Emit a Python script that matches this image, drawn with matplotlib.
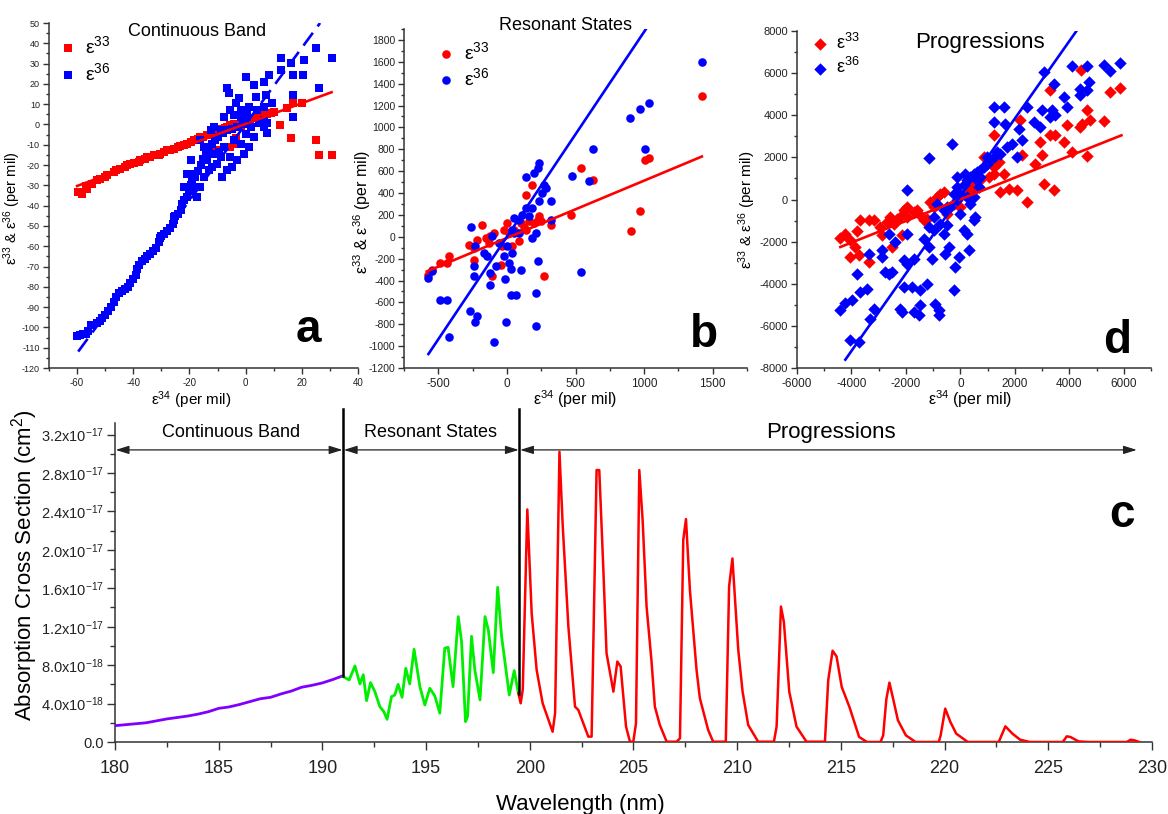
import numpy as np
import matplotlib
matplotlib.use("Agg")
import matplotlib.pyplot as plt
from matplotlib.ticker import MultipleLocator, FuncFormatter

plt.rcParams["font.family"] = ["Liberation Sans", "DejaVu Sans"]
plt.rcParams["mathtext.fontset"] = "custom"
plt.rcParams["mathtext.rm"] = "Liberation Sans"
plt.rcParams["mathtext.it"] = "Liberation Sans:italic"
plt.rcParams["mathtext.bf"] = "Liberation Sans:bold"
plt.rcParams["axes.unicode_minus"] = False

RED = "#ff0000"
BLUE = "#0000ff"
GREEN = "#00ee00"
PURPLE = "#8000ff"
AXC = "#333333"

# ---------------- panel a : continuous band (eps34, eps33) / (eps34, eps36)
a_red = [(-59.5, -33.3), (-58.3, -34.2), (-57, -30.5), (-56.5, -31.7), (-54.8, -29.2),
         (-53, -27.5), (-51.8, -26.7), (-50, -26), (-49.4, -25.1), (-47, -23.4),
         (-46, -22.5), (-44.6, -21.8), (-43, -21), (-42.3, -20.1), (-41, -19.5),
         (-39.9, -18.8), (-38, -18.5), (-37.5, -17.7), (-36, -17), (-35.1, -16),
         (-34, -16), (-32.7, -15.2), (-31, -14.8), (-30.4, -14.4), (-29, -13.5),
         (-28, -12.7), (-27, -12.5), (-25.6, -11.9), (-24, -11), (-23.2, -10.6),
         (-22, -10), (-20.8, -9.4), (-19.5, -8.5), (-18.5, -7.8), (-17, -7),
         (-16.1, -6.4), (-15, -6), (-13.7, -5.3), (-12, -4.5), (-11.3, -3.6),
         (-10, -3), (-8.9, -2), (-7.5, -1.8), (-6.5, -1.2), (-5.5, -0.5),
         (-4.2, 0.2), (-3, -0.5), (-1.8, -1.2), (-1, 0.5), (0.6, 1.3), (1.5, 1.8),
         (3, 3), (4, 3.8), (5.4, 4.6), (6.5, 5), (7.7, 5.4), (9, 5.8), (10.1, 6.3),
         (12.3, -0.3), (14.9, 7.9), (16.7, 10.4), (16.1, -6.9), (20.2, 10.4),
         (25, -7.8), (26.2, -15.2), (30.7, -15.2), (-4.2, -9.4), (-3.6, -6.9),
         (-5.4, -11), (-0.6, 2.1), (-10.1, -12.7)]

a_blue = [(-60, -104), (-59, -103.5), (-58, -103), (-57, -103), (-56, -102), (-55, -99),
          (-53, -98), (-52, -97), (-51, -95.5), (-50, -94), (-49, -92), (-48, -90),
          (-47, -87.5), (-46, -85), (-45, -83), (-44, -82), (-43, -81), (-42, -80),
          (-41, -78), (-40, -76), (-39, -74), (-38.5, -71), (-38, -69), (-37, -67.5),
          (-36, -66.5), (-35, -65), (-34, -64), (-33, -62.5), (-32, -61), (-31, -58),
          (-30.5, -56), (-30, -55), (-29, -54), (-28, -52.5), (-27, -51), (-26, -49),
          (-25.5, -47), (-25, -45), (-24, -44), (-23, -42), (-22.5, -39), (-22, -37),
          (-21, -35.5), (-20, -33), (-19.5, -30), (-19, -28.5), (-18, -26), (-17, -23),
          (-16, -20), (-15, -17), (-14, -15), (-13, -12), (-12, -9.5), (-11, -7.5),
          (-10, -6), (-8, -4), (-6.5, -2.8), (-5, -2), (-3, -1.2), (-1, 0), (0.6, 2.1),
          (-12.5, -2.8), (-8.9, -2.8), (-6.5, 17.8), (-6, 15.3), (-3.6, 10.4),
          (-2.4, 12.9), (-1.8, 7.1), (0, 23.6), (0.6, 6.3), (3, 19.5), (3.6, 13.7),
          (4.2, 7.1), (6.5, 21.1), (7.1, 14.5), (8.3, 24.4), (9.5, 10.4), (12.5, 32.7),
          (12.5, 26.9), (16.1, 30.2), (16.7, 24.4), (16.7, 14.5), (16.7, 3.8),
          (20.8, 31.8), (20.6, 24.4), (25, 37.6), (26.2, 17.8), (30.7, 32.7),
          (7.7, -4.1), (3, -6.1), (1.2, -11), (-0.6, -14.4), (-3, -17.7), (-4.8, -21),
          (-6.5, -22.6), (-8.3, -25.9), (-10.1, -19.3), (-11.3, -14.4), (-13, -22.6),
          (-14.8, -25.9), (-16.1, -30.9), (-17.3, -35.8), (-19, -24.3), (-13.7, -17.7),
          (-9.5, -13.5), (-7.7, -11), (-4.2, -7.8), (-1.8, -9.4), (-5.4, -16.1),
          (-8.9, -16.1), (-11.9, -21), (-14.8, -11), (-16.1, -7.8), (-20.8, -24.3),
          (-19, -32.5), (-19.6, -17.7), (-22, -30.9), (-22.6, -39.1), (-25.6, -45.7),
          (0, -4.5), (1.8, -1.2), (4.8, 0.5), (6.5, 2.1), (-4.2, 4.6), (-1.8, 3.8),
          (6.5, -1.2), (7.7, 0.5), (1.2, 8.8), (6.5, 8.8), (-5.4, 7.1), (-7.7, 3.8),
          (-11.3, -1.2)]

a_fit33_x = [-60.0, 30.6]
a_fit33_y = [-30.3, 15.9]
a_fit36_x = [-59.6, 26.5]
a_fit36_y = [-111.9, 50.0]

# ---------------- panel b : resonant states
b_red = [(-572, -347), (-548, -302), (-487, -241), (-438, -241), (-425, -180), (-279, -73),
         (-242, -104), (-242, -210), (-218, -27), (-181, 110), (-156, -12), (-132, -58),
         (-120, 3), (-95, 33), (-108, -363), (-46, -256), (-34, -88), (-22, 64), (2, 125),
         (15, 33), (39, -88), (51, 64), (88, -43), (100, 125), (137, 64), (137, 384),
         (186, 475), (198, 125), (223, 155), (235, 186), (271, -363), (320, 110),
         (467, 201), (540, 628), (626, 521), (968, 232), (902, 49), (1005, 704),
         (1034, 719), (1421, 1288), (125, 94), (161, 140), (247, 140)]

b_blue = [(-572, -378), (-543, -317), (-487, -576), (-438, -576), (-425, -917), (-271, -682),
          (-230, -783), (-218, -728), (-262, 85), (-242, -271), (-242, -363), (-230, -88),
          (-169, -149), (-144, -180), (-120, -332), (-120, -439), (-108, 3), (-95, -966),
          (-83, -271), (-59, -58), (-22, -180), (-17, -387), (-10, -783), (2, -88),
          (15, -241), (27, -296), (27, -530), (39, -149), (51, 171), (64, -530), (88, 155),
          (100, -302), (112, 201), (137, 551), (137, 262), (161, 186), (186, 262),
          (186, -12), (198, 582), (210, 33), (210, -515), (210, -813), (223, 628),
          (235, 674), (230, -226), (235, 323), (259, 399), (271, 475), (284, 445),
          (320, 323), (320, 155), (474, 557), (540, -326), (601, 506), (626, 801),
          (895, 1084), (968, 1166), (1005, 801), (1034, 1227), (1421, 1602), (88, 33),
          (39, 64), (51, 33)]

b_fit33_x = [-584, 1421]
b_fit33_y = [-317, 734]
b_fit36_x = [-572, 1012]
b_fit36_y = [-1072, 1897]

# ---------------- panel d : progressions
d_red = [(-4408, -1812), (-4224, -1622), (-4041, -1939), (-3857, -2255), (-3796, -1511),
         (-4041, -2730), (-3735, -2651), (-3673, -989), (-3367, -957), (-3184, -989),
         (-3367, -2967), (-2939, -1306), (-2878, -1701), (-2694, -1068), (-2572, -831),
         (-2510, -2255), (-2449, -1147), (-2327, -910), (-2204, -831), (-2143, -1701),
         (-2082, -514), (-1959, -831), (-1959, -356), (-1714, -593), (-1592, -514),
         (-1469, -752), (-1347, -989), (-1224, -910), (-1102, -119), (-980, -356),
         (-857, 119), (-735, 277), (-612, 356), (-490, -673), (-367, -356), (-245, -198),
         (0, -356), (122, 277), (367, 435), (551, 593), (735, 910), (857, 2018),
         (1041, 1068), (1224, 3078), (1224, 1226), (1469, 356), (1592, 1226), (1776, 514),
         (2082, 435), (2204, 3759), (2265, 2097), (2449, -119), (2755, 1701), (2939, 2730),
         (3000, 2137), (3061, 752), (3306, 5183), (3306, 3047), (3429, 435), (3490, 3047),
         (3796, 2730), (3918, 3522), (4102, 2255), (4408, 3443), (4433, 6131), (4469, 3601),
         (4653, 4234), (4653, 2050), (4751, 3759), (5265, 3727), (5510, 5104), (5878, 5310),
         (245, 593), (490, 752), (1224, 1543), (1408, 1780)]

d_blue = [(-4408, -5230), (-4224, -4914), (-3980, -4787), (-3796, -3521), (-4041, -6686),
          (-3735, -6765), (-3673, -4391), (-3429, -4234), (-3367, -2572), (-3306, -5657),
          (-3184, -5183), (-2878, -2413), (-2878, -2730), (-2755, -3443), (-2633, -1622),
          (-2633, -3522), (-2510, -3443), (-2388, -2018), (-2204, -5183), (-2143, -5341),
          (-2082, -4154), (-2082, -2888), (-1959, 435), (-1959, -1622), (-1959, -3047),
          (-1776, -4154), (-1714, -2809), (-1714, -5341), (-1531, -5499), (-1469, -5025),
          (-1469, -4313), (-1224, -3997), (-1163, 1988), (-1163, -1306), (-1347, -1859),
          (-1163, -2255), (-1041, -2809), (-980, -1464), (-918, -4945), (-796, -5499),
          (-796, -5262), (-735, -1147), (-612, -1622), (-551, -2572), (-490, -1226),
          (-429, -2255), (-367, -356), (-306, 2651), (-245, -4313), (-184, -3205),
          (-122, 1068), (-61, -2730), (0, -673), (122, -1464), (184, 1226), (245, -1622),
          (306, -2413), (367, -198), (490, -989), (551, -831), (612, 910), (735, 1385),
          (980, 1701), (1224, 4392), (1224, 3680), (1469, 2176), (1592, 4392), (1653, 3601),
          (1714, 2493), (1898, 2651), (2082, 2018), (2143, 3364), (2265, 2809), (2449, 4392),
          (2694, 3680), (2939, 3443), (3000, 4234), (3061, 6052), (3306, 3918), (3367, 4234),
          (3429, 5499), (3490, 3997), (3796, 4868), (3918, 4392), (4102, 6320), (4408, 5262),
          (4408, 4947), (4653, 5183), (4653, 6320), (4714, 5578), (5265, 6369), (5510, 6100),
          (5878, 6480), (-122, 593), (0, 277), (122, 672), (245, 910), (367, 1068),
          (490, 1226), (612, 1305), (735, 1068), (857, 1543), (980, 2018), (1102, 1859),
          (1224, 2018), (1347, 2255), (245, 119), (490, 119), (674, 593), (-122, -40),
          (-245, 277), (-490, -356), (-612, -514), (-980, -831), (-857, -198)]

d_fit33_x = [-4408, 5914]
d_fit33_y = [-2255, 3047]
d_fit36_x = [-4224, 4261]
d_fit36_y = [-7603, 8000]

# ---------------- panel c : absorption spectrum (cross section in 1e-18 cm^2)
cont_wl = [180, 180.5, 181, 181.5, 182, 182.5, 183, 183.5, 184, 184.5, 185, 185.5, 186,
           186.5, 187, 187.5, 188, 188.5, 189, 189.5, 190, 190.5, 191]
cont_xs = [1.7, 1.8, 1.9, 2.0, 2.2, 2.4, 2.55, 2.7, 2.9, 3.15, 3.5, 3.65, 3.9, 4.2, 4.5,
           4.65, 5.0, 5.3, 5.7, 5.9, 6.15, 6.5, 6.9]

res_wl = [191.0, 191.29, 191.57, 191.81, 191.97, 192.13, 192.32, 192.53, 192.77, 192.96,
          193.12, 193.33, 193.49, 193.65, 193.84, 194.02, 194.21, 194.42, 194.7, 194.94,
          195.18, 195.42, 195.66, 195.9, 196.06, 196.3, 196.55, 196.71, 196.9, 197.0,
          197.19, 197.35, 197.6, 197.84, 198.0, 198.24, 198.45, 198.64, 199.01, 199.25,
          199.45]
res_xs = [6.8, 6.46, 7.92, 6.04, 7.0, 4.3, 6.18, 5.24, 3.68, 3.16, 2.36, 4.72, 4.89, 6.0,
          4.65, 7.67, 6.04, 9.65, 5.76, 3.85, 5.59, 4.79, 3.0, 9.76, 9.86, 5.76, 13.05,
          10.45, 2.12, 2.64, 11.0, 7.5, 4.38, 13.05, 11.67, 7.22, 16.1, 11.0, 4.9, 7.43,
          5.07]

prog_wl = [199.45, 199.56, 199.66, 199.88, 200.09, 200.33, 200.62, 201.1, 201.22, 201.43,
           201.59, 201.86, 202.18, 202.34, 202.82, 202.98, 203.22, 203.35, 203.54, 203.7,
           204.03, 204.22, 204.38, 204.64, 204.83, 204.99, 205.12, 205.28, 205.44, 205.63,
           205.87, 206.03, 206.27, 206.6, 207.08, 207.24, 207.4, 207.53, 207.72, 208.04,
           208.2, 208.6, 208.84, 209.45, 209.61, 209.77, 210.05, 210.26, 210.53, 211.01,
           211.77, 211.9, 212.11, 212.25, 212.51, 212.86, 213.34, 214.23, 214.39, 214.6,
           214.79, 215.04, 215.41, 215.88, 216.26, 216.91, 217.04, 217.19, 217.34, 217.53,
           217.75, 218.13, 218.6, 219.72, 219.81, 220.03, 220.28, 220.56, 221.12, 222.61,
           222.93, 223.27, 223.64, 224.11, 225.7, 225.89, 226.07, 226.45, 226.91, 228.78,
           228.97, 229.16, 229.38]
prog_xs = [5.07, 4.03, 5.45, 24.2, 13.4, 7.5, 4.03, 1.07, 2.99, 30.2, 22.4, 12.0, 3.68,
           3.33, 0.56, 0.56, 28.3, 28.3, 18.3, 9.24, 5.24, 8.37, 7.85, 1.6, 0.03, 0.03,
           1.94, 28.3, 23.1, 14.1, 8.37, 3.68, 1.77, 0.03, 0.03, 0.38, 21.05, 23.2, 15.8,
           7.5, 4.55, 1.25, 0.03, 0.03, 16.2, 19.1, 9.6, 5.24, 1.77, 0.03, 0.03, 1.6, 14.1,
           12.5, 5.24, 1.6, 0.03, 0.03, 6.45, 9.5, 8.9, 5.73, 3.65, 0.52, 0, 0, 0.7, 4.44,
           6.18, 4.38, 2.26, 0.7, 0, 0, 0.7, 3.47, 2.08, 0.87, 0, 0, 1.63, 0.87, 0.24, 0,
           0, 0.59, 0.52, 0.07, 0, 0, 0.24, 0.17, 0]

region_edges = [180.0, 191.0, 199.5, 229.3]
region_names = ["Continuous Band", "Resonant States", "Progressions"]
region_label_x = [185.6, 195.2, 214.5]
region_font = [13, 13, 16]
edge_bottom = [6.9, 5.0]  # where the separators meet the curve (1e-18)

EPS33 = "ε$^{33}$"
EPS36 = "ε$^{36}$"
EPS_Y = "ε$^{33}$ & ε$^{36}$ (per mil)"
EPS_X = "ε$^{34}$ (per mil)"


def style(ax, xlim, ylim, xmaj, xmin, ymaj, ymin, xfs, yfs):
    ax.set_xlim(*xlim)
    ax.set_ylim(*ylim)
    for s in ("top", "right"):
        ax.spines[s].set_visible(False)
    for s in ("left", "bottom"):
        ax.spines[s].set_color(AXC)
        ax.spines[s].set_linewidth(1.1)
    ax.xaxis.set_major_locator(MultipleLocator(xmaj))
    ax.xaxis.set_minor_locator(MultipleLocator(xmin))
    ax.yaxis.set_major_locator(MultipleLocator(ymaj))
    ax.yaxis.set_minor_locator(MultipleLocator(ymin))
    ax.tick_params(which="both", direction="out", color=AXC, width=1.0)
    ax.tick_params(which="major", length=4.5)
    ax.tick_params(which="minor", length=2.5)
    ax.tick_params(axis="x", labelsize=xfs, labelcolor="#222222", pad=3)
    ax.tick_params(axis="y", labelsize=yfs, labelcolor="#222222", pad=2)


def scatter_panel(ax, red, blue, marker, s, fits, fit_styles, title, title_xy, title_fs,
                  leg_xy, leg_fs):
    rx, ry = np.array(red).T
    bx, by = np.array(blue).T
    h1 = ax.scatter(rx, ry, s=s, marker=marker, color=RED, linewidths=0, zorder=2)
    h2 = ax.scatter(bx, by, s=s, marker=marker, color=BLUE, linewidths=0, zorder=3)
    for (fx, fy), (col, ls) in zip(fits, fit_styles):
        ax.plot(fx, fy, color=col, lw=1.9, ls=ls, zorder=4)
    ax.text(title_xy[0], title_xy[1], title, transform=ax.transAxes, fontsize=title_fs,
            ha="center", va="center")
    ax.legend([h1, h2], [EPS33, EPS36], loc="upper left", bbox_to_anchor=leg_xy,
              frameon=False, fontsize=leg_fs, handlelength=0.8, handletextpad=0.5,
              borderpad=0, borderaxespad=0, labelspacing=0.25, scatterpoints=1)


fig = plt.figure(figsize=(11.68, 8.14), dpi=100)

ax_a = fig.add_axes([0.04195, 0.5479, 0.26455, 0.42383])
ax_b = fig.add_axes([0.3459, 0.5479, 0.29366, 0.41646])
ax_d = fig.add_axes([0.68236, 0.5479, 0.30308, 0.414])
ax_c = fig.add_axes([0.09846, 0.08845, 0.88784, 0.39189])

# panel a
style(ax_a, (-70, 40), (-120, 50), 20, 10, 10, 5, 7, 6.5)
scatter_panel(ax_a, a_red, a_blue, "s", 26,
              [(a_fit33_x, a_fit33_y), (a_fit36_x, a_fit36_y)],
              [(RED, "-"), (BLUE, (0, (6, 3)))],
              "Continuous Band", (0.479, 0.975), 13, (0.035, 0.965), 14)
ax_a.text(0.838, 0.075, "a", transform=ax_a.transAxes, fontsize=33, fontweight="bold",
          ha="center", va="baseline")
ax_a.set_xlabel(EPS_X, fontsize=11, va="center")
ax_a.xaxis.set_label_coords(0.46, -0.092)
ax_a.set_ylabel(EPS_Y, fontsize=10.5, va="center")
ax_a.yaxis.set_label_coords(-0.118, 0.464)

# panel b
style(ax_b, (-750, 1750), (-1200, 1900), 500, 250, 200, 100, 8.5, 7.5)
scatter_panel(ax_b, b_red, b_blue, "o", 38,
              [(b_fit33_x, b_fit33_y), (b_fit36_x, b_fit36_y)],
              [(RED, "-"), (BLUE, "-")],
              "Resonant States", (0.47, 1.01), 13, (0.1, 0.965), 14)
ax_b.text(0.875, 0.062, "b", transform=ax_b.transAxes, fontsize=33, fontweight="bold",
          ha="center", va="baseline")
ax_b.set_xlabel(EPS_X, fontsize=11.5, va="center")
ax_b.xaxis.set_label_coords(0.499, -0.092)
ax_b.set_ylabel(EPS_Y, fontsize=11.5, va="center")
ax_b.yaxis.set_label_coords(-0.122, 0.46)

# panel d
style(ax_d, (-6000, 7000), (-8000, 8000), 2000, 1000, 2000, 1000, 8.5, 8)
scatter_panel(ax_d, d_red, d_blue, "D", 40,
              [(d_fit33_x, d_fit33_y), (d_fit36_x, d_fit36_y)],
              [(RED, "-"), (BLUE, "-")],
              "Progressions", (0.517, 0.966), 16, (0.045, 0.995), 13)
ax_d.text(0.904, 0.045, "d", transform=ax_d.transAxes, fontsize=33, fontweight="bold",
          ha="center", va="baseline")
ax_d.set_xlabel(EPS_X, fontsize=11.5, va="center")
ax_d.xaxis.set_label_coords(0.489, -0.092)
ax_d.set_ylabel(EPS_Y, fontsize=11, va="center")
ax_d.yaxis.set_label_coords(-0.142, 0.47)

# panel c
scale = 1e-18
style(ax_c, (180, 230), (0, 3.32e-17), 5, 2.5, 0.4e-17, 0.2e-17, 13, 10.5)
ax_c.tick_params(which="major", length=6)
ax_c.tick_params(which="minor", length=3.5)
ax_c.tick_params(axis="x", pad=7)


def sci(v, pos):
    if abs(v) < 1e-25:
        return "0.0"
    if v < 0:
        return ""
    e = int(np.floor(np.log10(v) + 1e-9))
    m = v / 10.0 ** e
    return f"{m:.1f}x10$^{{{e}}}$"


ax_c.yaxis.set_major_formatter(FuncFormatter(sci))
ax_c.plot(cont_wl, np.array(cont_xs) * scale, color=PURPLE, lw=2.0, zorder=3)
ax_c.plot(res_wl, np.array(res_xs) * scale, color=GREEN, lw=2.0, zorder=3)
ax_c.plot(prog_wl, np.array(prog_xs) * scale, color=RED, lw=1.8, zorder=3)

for xe, yb in zip(region_edges[1:3], edge_bottom):
    ax_c.plot([xe, xe], [yb * scale, 3.47e-17], color="black", lw=1.8, clip_on=False,
              zorder=5)

arrow_y = 3.04e-17
for i, name in enumerate(region_names):
    x0, x1 = region_edges[i], region_edges[i + 1]
    ax_c.annotate("", xy=(x1, arrow_y), xytext=(x0, arrow_y),
                  arrowprops=dict(arrowstyle="<|-|>,head_length=0.8,head_width=0.25",
                                  color="#222222", lw=0.9, shrinkA=0.5, shrinkB=0.5),
                  annotation_clip=False)
    ax_c.text(region_label_x[i], 3.22e-17, name, fontsize=region_font[i], ha="center",
              va="center")

ax_c.text(228.55, 2.24e-17, "c", fontsize=33, fontweight="bold", ha="center",
          va="baseline")
ax_c.set_xlabel("Wavelength (nm)", fontsize=16, va="center")
ax_c.xaxis.set_label_coords(0.449, -0.195)
ax_c.set_ylabel("Absorption Cross Section (cm$^{2}$)", fontsize=16, va="center")
ax_c.yaxis.set_label_coords(-0.0868, 0.555)

fig.savefig("out.png", dpi=100)
